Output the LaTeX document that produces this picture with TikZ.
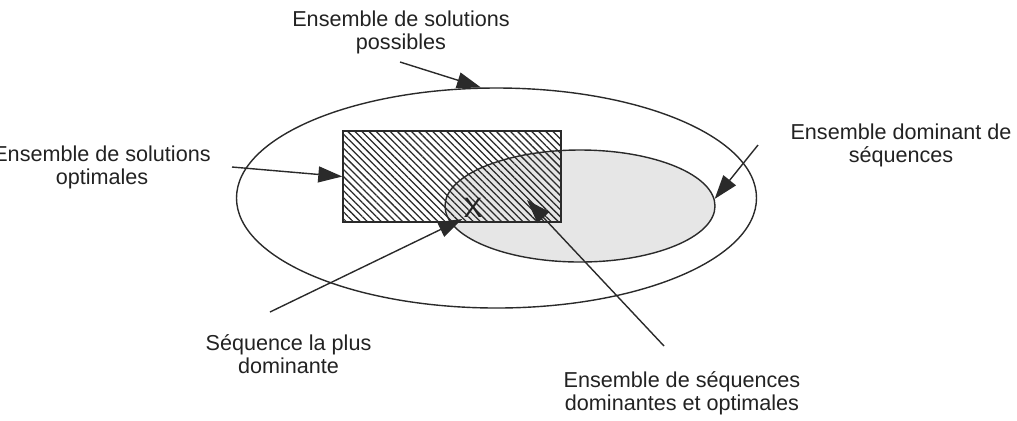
\documentclass[tikz,border=0pt]{standalone}
\usepackage{fontspec}
\setmainfont{Liberation Sans}
\usetikzlibrary{arrows.meta,shapes.geometric,patterns.meta}
\definecolor{ink}{HTML}{2A2A2A}
\definecolor{txt}{HTML}{222222}
\definecolor{lightfill}{HTML}{E6E6E6}
\tikzset{
  outline/.style={draw=ink, line width=0.7pt},
  pointer/.style={draw=ink, line width=0.7pt, -{Triangle[length=12pt,width=8pt]}},
  lbl/.style={text=txt, align=center, inner sep=0pt, anchor=base,
    font=\fontsize{10.8}{11.5}\selectfont},
  hatch/.style={pattern={Lines[angle=-45,distance=2.5pt,line width=0.65pt]}, pattern color=ink}
}
\begin{document}
\begin{tikzpicture}[x=0.5pt,y=-0.5pt]
\useasboundingbox (0,0) rectangle (1017,420);
% big ellipse
\node[ellipse, outline, inner sep=0pt, minimum width=260pt, minimum height=110pt] (big) at (496.5,198) {};
% rectangle background
\node[rectangle, fill=white, inner sep=0pt, minimum width=109pt, minimum height=45.5pt] (rectbg) at (452,176.5) {};
% gray ellipse fill
\node[ellipse, fill=lightfill, inner sep=0pt, minimum width=135pt, minimum height=56pt] (grayfill) at (580,206) {};
% hatched rectangle
\node[rectangle, hatch, inner sep=0pt, minimum width=109pt, minimum height=45.5pt] (rect) at (452,176.5) {};
% gray ellipse outline
\node[ellipse, outline, inner sep=0pt, minimum width=135pt, minimum height=56pt] (gray) at (580,206) {};
% rectangle outline
\node[rectangle, outline, inner sep=0pt, minimum width=109pt, minimum height=45.5pt] (rectline) at (452,176.5) {};
% X mark
\node[text=txt, inner sep=0.5pt, font=\fontsize{14}{14}\selectfont] (xm) at (473,208) {X};
% labels (base = last line)
\node[lbl] (lpossible) at (401,49) {Ensemble de solutions\\possibles};
\node[lbl] (loptimal) at (102,184) {Ensemble de solutions\\optimales};
\node[lbl] (ldominant) at (901,162) {Ensemble dominant de\\séquences};
\node[lbl] (lplus) at (288.5,373) {Séquence la plus\\dominante};
\node[lbl] (ldomopt) at (682,410) {Ensemble de séquences\\dominantes et optimales};
% free ends
\coordinate (tpossible) at (400,62);
\coordinate (toptimal) at (232,167);
\coordinate (tdominant) at (758,145);
\coordinate (tplus) at (270,312);
\coordinate (tdomopt) at (664,346);
\coordinate (hdomopt) at (527,200);
% arrows
\draw[pointer] (tpossible) -- (big.98);
\draw[pointer] (toptimal) -- (rectline.west);
\draw[pointer] (tdominant) -- (gray.3);
\draw[pointer] (tplus) -- (xm.south west);
\draw[pointer] (tdomopt) -- (hdomopt);
\end{tikzpicture}
\end{document}
